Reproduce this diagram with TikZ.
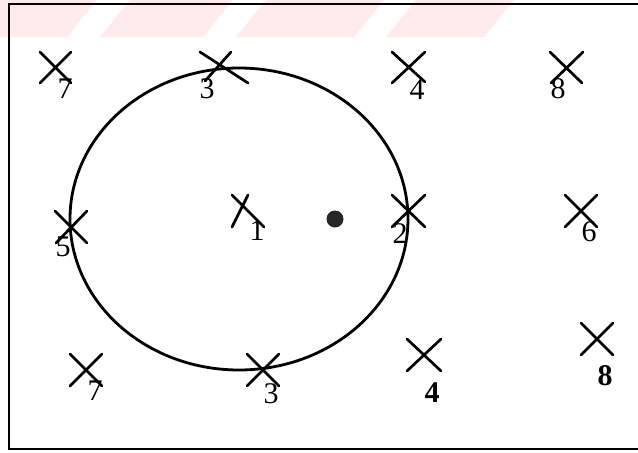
\documentclass[tikz,border=0pt]{standalone}
\usepackage{fontspec}
\setmainfont{Liberation Serif}
\begin{document}
\begin{tikzpicture}[x=1pt,y=-1pt,
  mark line/.style={line width=2.7pt, line cap=round},
  lab/.style={inner sep=0pt, font=\fontsize{30}{32}\selectfont},
  blab/.style={lab, font=\fontsize{30}{32}\selectfont\bfseries},
  frameline/.style={line width=2.2pt}]
\useasboundingbox (0,0) rectangle (638,453);
\begin{scope}
\clip (0,0) rectangle (638,453);
% faint pink band
\fill[red!8!white] (0,37) -- (67,37) -- (97,0) -- (0,0) -- cycle;
\fill[red!8!white] (100,37) -- (203,37) -- (233,0) -- (130,0) -- cycle;
\fill[red!8!white] (236,37) -- (354,37) -- (384,0) -- (266,0) -- cycle;
\fill[red!8!white] (386,37) -- (484,37) -- (514,0) -- (416,0) -- cycle;
% frame
\draw[frameline] (9,4) rectangle (660,449);
\end{scope}
% circle
\draw[line width=2.8pt] (239,219) ellipse [x radius=169, y radius=151];
% dot
\fill[black!85] (335,219) circle [radius=8.5];
% crosses
\draw[mark line] (40,52) -- (71,83) (40,83) -- (71,52);
\draw[mark line] (200,52) -- (248,83) (205,81) -- (231,52);
\draw[mark line] (392,52) -- (425,82) (392,83) -- (425,52);
\draw[mark line] (550,52) -- (582,83) (551,83) -- (583,52);
\draw[mark line] (55,211) -- (87,243) (56,243) -- (87,211);
\draw[mark line] (232,195) -- (264,227) (232,227) -- (248,195);
\draw[mark line] (392,195) -- (425,227) (392,227) -- (425,195);
\draw[mark line] (565,195) -- (597,227) (565,227) -- (597,195);
\draw[mark line] (70,354) -- (102,386) (70,386) -- (102,354);
\draw[mark line] (247,354) -- (279,386) (247,386) -- (279,354);
\draw[mark line] (407,339) -- (441,371) (407,371) -- (441,339);
\draw[mark line] (581,323) -- (613,355) (581,355) -- (613,323);
% labels
\node[lab] (l7a) at (65,89) {7};
\node[lab] (l3a) at (207,89) {3};
\node[lab] (l4a) at (417,90) {4};
\node[lab] (l8a) at (558,89) {8};
\node[lab] (l5) at (63,247) {5};
\node[lab] (l1) at (257,231) {1};
\node[lab] (l2) at (400,234) {2};
\node[lab] (l6) at (589,232) {6};
\node[lab] (l7b) at (95,391) {7};
\node[lab] (l3b) at (271,394) {3};
\node[blab] (l4b) at (432,393) {4};
\node[blab] (l8b) at (605,376) {8};
\end{tikzpicture}
\end{document}
